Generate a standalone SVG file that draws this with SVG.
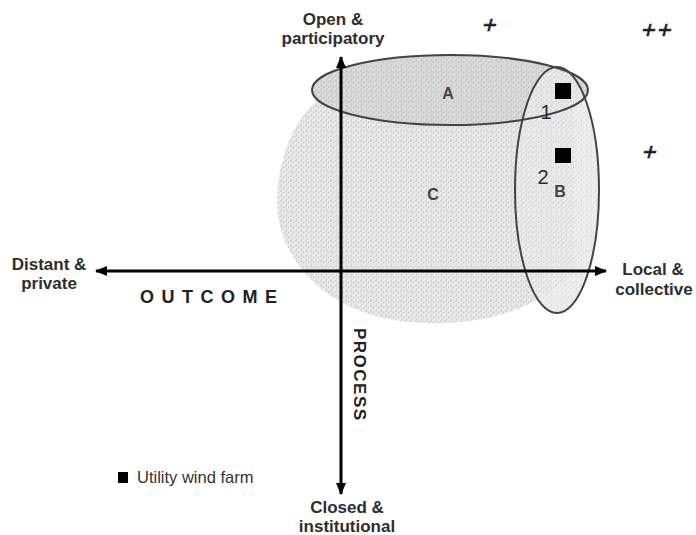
<svg xmlns="http://www.w3.org/2000/svg" width="696" height="535" viewBox="0 0 696 535">
<style>
.lbl{font-family:"Liberation Sans",Arial,sans-serif;font-weight:bold;font-size:17px;fill:#2e2e2e;text-anchor:middle}
.reg{font-family:"Liberation Sans",Arial,sans-serif;font-size:16.5px;fill:#333}
.plus{font-family:"Liberation Sans",Arial,sans-serif;font-size:24px;fill:#1a1a1a;stroke:#1a1a1a;stroke-width:0.6;text-anchor:middle}
.num{font-family:"Liberation Sans",Arial,sans-serif;font-size:20px;fill:#2a2a3a;text-anchor:middle}
.let{font-family:"Liberation Sans",Arial,sans-serif;font-weight:bold;font-size:16px;fill:#444;text-anchor:middle}
.ring{stroke:#444;stroke-width:2}
.axis{stroke:#000;stroke-width:3;fill:none}
</style>
<defs>
<pattern id="stipC" width="5" height="5" patternUnits="userSpaceOnUse">
<rect width="5" height="5" fill="#ebebeb"/>
<circle cx="1" cy="1" r="0.8" fill="#bcbcbc"/>
<circle cx="3.6" cy="2.4" r="0.8" fill="#c4c4c4"/>
<circle cx="1.8" cy="4.1" r="0.7" fill="#c0c0c0"/>
</pattern>
<pattern id="stipA" width="5" height="5" patternUnits="userSpaceOnUse">
<rect width="5" height="5" fill="#dcdcdc"/>
<circle cx="1" cy="1" r="0.8" fill="#b5b5b5"/>
<circle cx="3.6" cy="2.4" r="0.8" fill="#bdbdbd"/>
<circle cx="1.8" cy="4.1" r="0.7" fill="#b8b8b8"/>
</pattern>
<pattern id="stipB" width="5" height="5" patternUnits="userSpaceOnUse">
<rect width="5" height="5" fill="#ececec"/>
<circle cx="1" cy="1" r="0.7" fill="#cacaca"/>
<circle cx="3.6" cy="2.4" r="0.7" fill="#d0d0d0"/>
<circle cx="1.8" cy="4.1" r="0.6" fill="#cccccc"/>
</pattern>
<marker id="ah" viewBox="0 0 12 10" refX="11" refY="5" markerWidth="12" markerHeight="10" markerUnits="userSpaceOnUse" orient="auto-start-reverse">
<path d="M0,0 L12,5 L0,10 Z" fill="#000"/>
</marker>
</defs>
<rect width="696" height="535" fill="#fff"/>

<g id="nodeC">
<path d="M318,100 C296,116 276,160 277,205 C279,258 325,320 425,323 C492,325 545,305 575,270 L575,95 Z" fill="url(#stipC)"/>
<text class="let" x="433" y="200">C</text>
</g>
<g id="nodeA">
<ellipse cx="450" cy="90" rx="138" ry="35" fill="url(#stipA)"/>
</g>
<g id="nodeB">
<ellipse cx="557" cy="190" rx="42" ry="123" fill="url(#stipB)" fill-opacity="0.85"/>
</g>
<g id="outlines" fill="none">
<ellipse class="ring" cx="450" cy="90" rx="138" ry="35"/>
<ellipse class="ring" cx="557" cy="190" rx="42" ry="123"/>
</g>
<text class="let" x="448" y="99">A</text>
<text class="let" x="560" y="197">B</text>

<g id="connectors">
<line class="axis" x1="341" y1="494" x2="341" y2="57" marker-end="url(#ah)" marker-start="url(#ah)"/>
<line class="axis" x1="606" y1="271" x2="96" y2="271" marker-end="url(#ah)" marker-start="url(#ah)"/>
</g>

<g id="farm1">
<rect x="555" y="83" width="16" height="16" fill="#000"/>
<text class="num" x="546" y="119">1</text>
</g>
<g id="farm2">
<rect x="555" y="148" width="16" height="15" fill="#000"/>
<text class="num" x="543" y="184">2</text>
</g>

<g id="labels">
<text class="lbl" x="333" y="25">Open &amp;</text>
<text class="lbl" x="333" y="44">participatory</text>
<text class="lbl" x="49" y="270">Distant &amp;</text>
<text class="lbl" x="49" y="289">private</text>
<text class="lbl" x="653" y="275">Local &amp;</text>
<text class="lbl" x="654" y="295">collective</text>
<text class="lbl" x="347" y="513">Closed &amp;</text>
<text class="lbl" x="347" y="532">institutional</text>
<text class="lbl" x="140" y="303" style="text-anchor:start;font-size:18px;letter-spacing:7.5px;fill:#222">OUTCOME</text>
<text class="lbl" transform="translate(354,328) rotate(90)" style="text-anchor:start;letter-spacing:1.5px;fill:#222">PROCESS</text>
</g>

<g id="pluses">
<text class="plus" transform="translate(490,25) skewX(-14)" y="8">+</text>
<text class="plus" transform="translate(658,30) skewX(-14)" y="8" style="letter-spacing:2px">++</text>
<text class="plus" transform="translate(650,152) skewX(-14)" y="8">+</text>
</g>

<g id="legend">
<rect x="118" y="472" width="10" height="11" fill="#000"/>
<text class="reg" x="137" y="483">Utility wind farm</text>
</g>
</svg>
